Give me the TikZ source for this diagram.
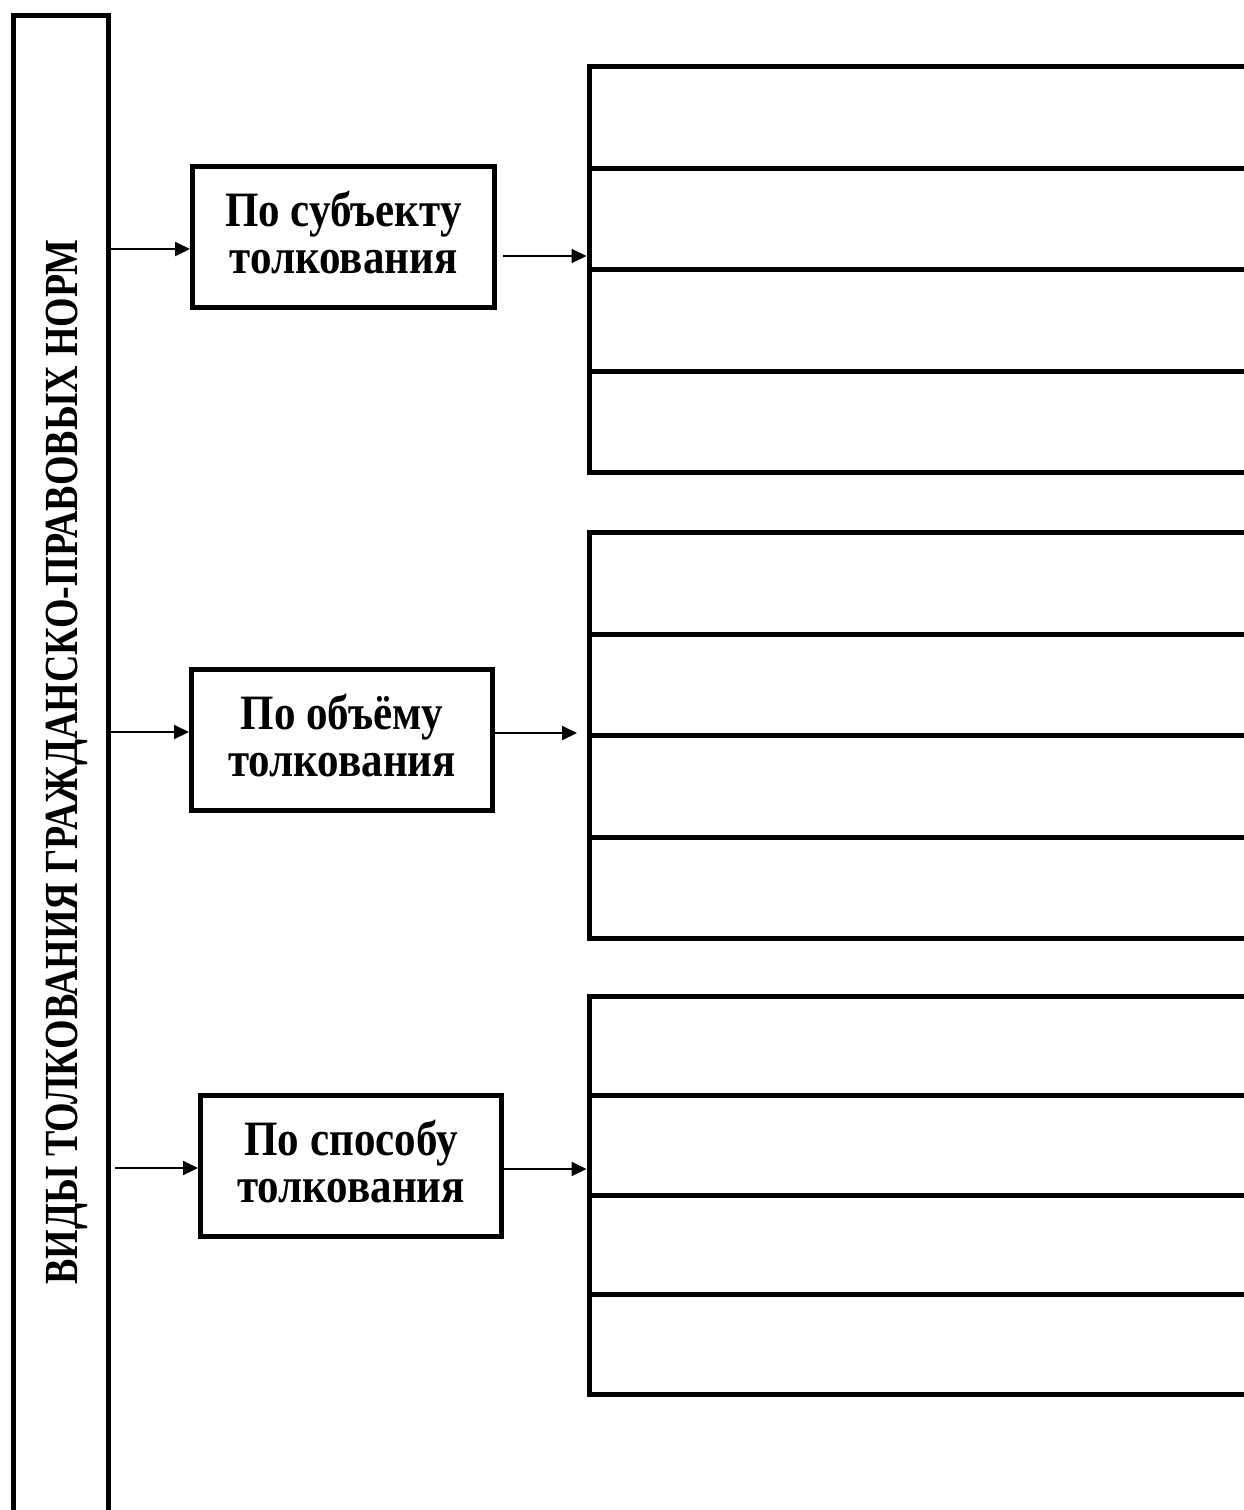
\documentclass[tikz,border=0pt]{standalone}
\usepackage{fontspec}
\setmainfont{Liberation Serif}
\usetikzlibrary{arrows.meta}
\newcommand{\vstretch}[2][1.15]{\scalebox{1}[#1]{#2}}
\begin{document}
\begin{tikzpicture}[x=1pt,y=-1pt,
  heavy/.style={draw, line width=5pt, inner sep=0pt},
  midbox/.style={heavy, minimum width=301pt, minimum height=141pt},
  midtext/.style={font=\fontsize{43}{47}\selectfont\bfseries, anchor=base, inner sep=0pt},
  cell/.style={heavy, minimum width=713.5pt, anchor=north west},
  arr/.style={line width=2pt, -{Triangle[length=15pt,width=14pt]}}]
\useasboundingbox (0,0) rectangle (1244,1510);
\clip (0,0) rectangle (1244,1510);
% main vertical box
\node[heavy, minimum width=95.5pt, minimum height=1530pt, anchor=north west] (main) at (10.8,12.8) {};
\node[rotate=90, anchor=base, inner sep=0pt, font=\fontsize{38}{40}\selectfont\bfseries] (title) at (77,762)
  {\vstretch[1.25]{\bfseries ВИДЫ ТОЛКОВАНИЯ ГРАЖДАНСКО-ПРАВОВЫХ НОРМ}};
% middle boxes
\node[midbox, minimum width=302pt] (b1) at (343.5,237) {};
\node[midbox] (b2) at (342,740) {};
\node[midbox] (b3) at (351,1166) {};
\node[midtext] (t1a) at (343.5,226.5) {\vstretch{По субъекту}};
\node[midtext] (t1b) at (343.5,273.5) {\vstretch{толкования}};
\node[midtext] (t2a) at (342,729.5) {\vstretch{По объёму}};
\node[midtext] (t2b) at (342,776.5) {\vstretch{толкования}};
\node[midtext] (t3a) at (351,1155.5) {\vstretch{По способу}};
\node[midtext] (t3b) at (351,1202.5) {\vstretch{толкования}};
% right groups
\foreach \g/\top/\h in {1/64/101.5, 2/530/101.5, 3/993.5/99.6}{
  \foreach \i in {1,2,3,4}{
    \node[cell, minimum height=\h pt] (g\g c\i) at (586.5,{\top+(\i-1)*\h}) {};
  }
}
% connectors
\coordinate (s1) at (106.3,249);
\coordinate (s2) at (106.3,732);
\coordinate (s3) at (115,1168);
\draw[arr] (s1) -- (b1.west |- s1);
\draw[arr] (s2) -- (b2.west |- s2);
\draw[arr] (s3) -- (b3.west |- s3);
\coordinate (r1) at (503,256);
\coordinate (r2) at (577,733);
\coordinate (r3) at (501.5,1169);
\draw[arr] (r1) -- (g1c2.west |- r1);
\draw[arr] (b2.east |- r2) -- (r2);
\draw[arr] (r3) -- (g3c2.west |- r3);
\end{tikzpicture}
\end{document}
